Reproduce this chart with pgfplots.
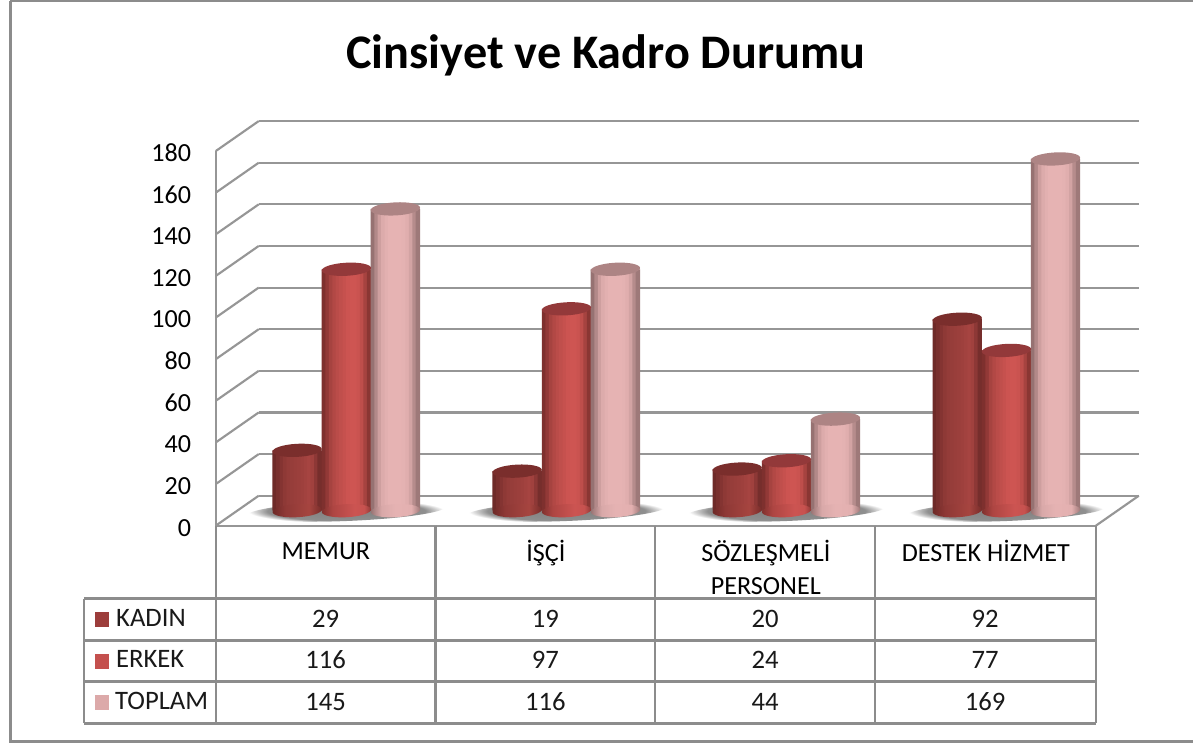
\documentclass[border=0pt]{standalone}
\usepackage{pgfplots}
\pgfplotsset{compat=1.18}
\usepackage{fontspec}
\setmainfont{Carlito}
\definecolor{gridc}{HTML}{969696}
\definecolor{tabc}{HTML}{8C8C8C}
\definecolor{kadinc}{HTML}{9C3D3B}
\definecolor{erkekc}{HTML}{C4504E}
\definecolor{toplamc}{HTML}{DCA9A9}
\definecolor{ktop}{HTML}{7A2E2C}
\definecolor{etop}{HTML}{93393A}
\definecolor{ttop}{HTML}{AD8484}
\definecolor{kdark}{HTML}{6E2A28}
\definecolor{klight}{HTML}{A64441}
\definecolor{edark}{HTML}{7E302E}
\definecolor{elight}{HTML}{CE5552}
\definecolor{tdark}{HTML}{967272}
\definecolor{tlight}{HTML}{E6B3B3}
\pgfdeclarehorizontalshading{kadinsh}{100bp}{rgb(0bp)=(0.43,0.16,0.15);rgb(25bp)=(0.43,0.16,0.15);rgb(38bp)=(0.56,0.22,0.21);rgb(62bp)=(0.65,0.27,0.25);rgb(75bp)=(0.46,0.17,0.16);rgb(100bp)=(0.46,0.17,0.16)}
\pgfdeclarehorizontalshading{erkeksh}{100bp}{rgb(0bp)=(0.50,0.19,0.18);rgb(25bp)=(0.50,0.19,0.18);rgb(36bp)=(0.68,0.27,0.26);rgb(58bp)=(0.80,0.33,0.32);rgb(68bp)=(0.78,0.32,0.31);rgb(75bp)=(0.55,0.22,0.21);rgb(100bp)=(0.55,0.22,0.21)}
\pgfdeclarehorizontalshading{toplamsh}{100bp}{rgb(0bp)=(0.59,0.45,0.45);rgb(25bp)=(0.59,0.45,0.45);rgb(36bp)=(0.85,0.66,0.66);rgb(50bp)=(0.90,0.70,0.70);rgb(66bp)=(0.89,0.69,0.69);rgb(75bp)=(0.62,0.47,0.47);rgb(100bp)=(0.62,0.47,0.47)}
\pgfdeclareradialshading{shadowsh}{\pgfpoint{0bp}{0bp}}{rgb(0bp)=(0.5,0.5,0.5);rgb(20bp)=(0.56,0.56,0.56);rgb(25bp)=(1,1,1);rgb(50bp)=(1,1,1)}
\newcommand\ellpath{\pgfpathellipse{\pgfpointorigin}{\pgfqpoint{18.5pt}{1.0pt}}{\pgfqpoint{-.3pt}{4.9pt}}}
\pgfdeclareplotmark{baseK}{\ellpath\pgfshadepath{kadinsh}{0}\pgfusepath{discard}}
\pgfdeclareplotmark{baseE}{\ellpath\pgfshadepath{erkeksh}{0}\pgfusepath{discard}}
\pgfdeclareplotmark{baseT}{\ellpath\pgfshadepath{toplamsh}{0}\pgfusepath{discard}}
\pgfdeclareplotmark{topC}{\ellpath\pgfusepath{fill}}
\pgfdeclareplotmark{shad}{\pgfpathellipse{\pgfpointorigin}{\pgfqpoint{74pt}{3pt}}{\pgfqpoint{0pt}{7.5pt}}\pgfshadepath{shadowsh}{0}\pgfusepath{discard}}
\pgfplotstableread{
x kadin erkek toplam zero
0 29 116 145 0
1 19 97 116 0
2 20 24 44 0
3 92 77 169 0
}\datatable
% #1 column, #2 xshift (pt), #3 dark, #4 light, #5 list offset/mix
\newcommand\cylbody[5]{%
  \foreach \off/\mx in #5{%
    \edef\temp{\noexpand\addplot[ybar,bar shift=\off pt,bar width=3.3pt,draw=none,fill={#4!\mx!#3},xshift=#2pt,yshift=11.25pt,forget plot] table[x=x,y=#1]{\noexpand\datatable};}%
    \temp
  }%
}
\def\profK{-16.9/0,-14.2/20,-11.6/40,-9/58,-6.4/68,-3.8/72,-1.2/76,1.4/80,4/85,6.6/92,9.2/100,11.8/90,14.4/55,16.9/15}
\def\profE{-16.9/0,-14.2/25,-11.6/50,-9/65,-6.4/75,-3.8/83,-1.2/90,1.4/97,4/100,6.6/100,9.2/95,11.8/80,14.4/50,16.9/15}
\def\profT{-16.9/0,-14.2/35,-11.6/70,-9/88,-6.4/95,-3.8/100,-1.2/100,1.4/100,4/100,6.6/98,9.2/92,11.8/75,14.4/40,16.9/10}
\pgfplotsset{common/.style={
  scale only axis,width=660.75pt,height=281.25pt,
  at={(162pt,-394.5pt)},anchor=south west,
  xmin=-0.5,xmax=3.5,ymin=0,ymax=180,clip=false}}
\begin{document}
\begin{tikzpicture}[x=0.75pt,y=-0.75pt]
\path[fill=white] (0,0) rectangle (1194,744);
\draw[tabc,line width=1.8pt] (10.5,1) -- (1194,1);
\draw[tabc,line width=1.8pt] (10.5,1) -- (10.5,742) -- (1194,742);
\node[font=\bfseries\fontsize{36.2}{36}\selectfont,anchor=center] at (606.5,55) {Cinsiyet ve Kadro Durumu};
\begin{axis}[common,hide axis]
\addplot[only marks,mark=shad,forget plot,xshift=15.5pt,yshift=11pt] table[x=x,y=zero]{\datatable};
\end{axis}
\begin{axis}[common,
  axis x line*=bottom,axis y line*=left,
  axis line style={gridc,line width=1.7pt,-},
  xtick={0,1,2,3},
  xticklabels={\rule{0pt}{14pt}MEMUR,\rule{0pt}{14pt}İŞÇİ,{\rule{0pt}{14pt}SÖZLEŞMELİ\\PERSONEL},\rule{0pt}{14pt}DESTEK HİZMET},
  xticklabel style={align=center,anchor=north,yshift=-7.5pt,font=\fontsize{19.6}{24.75}\selectfont},
  xtick style={draw=none},
  ytick={0,20,...,180},
  ytick style={draw=none},
  yticklabel style={font=\fontsize{19.6}{22}\selectfont,xshift=-15pt,yshift=-1.5pt},
  /pgf/number format/assume math mode=true,
]
\pgfplotsinvokeforeach{0,20,...,180}{
  \addplot[sharp plot,no marks,gridc,line width=1.6pt,xshift=32.25pt,yshift=22.5pt,forget plot] coordinates {(-0.5,#1)(3.5,#1)};
  \draw[gridc,line width=1.6pt] (axis cs:-0.5,#1) -- ++(32.25pt,22.5pt);
}
\draw[gridc,line width=1.6pt] (axis cs:3.5,0) -- ++(32.25pt,22.5pt);
\addplot[only marks,mark=baseK,forget plot,xshift=-21.5pt,yshift=11.25pt] table[x=x,y=zero]{\datatable};
\addplot[only marks,mark=baseE,forget plot,xshift=15.5pt,yshift=11.25pt] table[x=x,y=zero]{\datatable};
\addplot[only marks,mark=baseT,forget plot,xshift=52.25pt,yshift=11.25pt] table[x=x,y=zero]{\datatable};
\cylbody{kadin}{-21.5}{kdark}{klight}{\profK}
\cylbody{erkek}{15.5}{edark}{elight}{\profE}
\cylbody{toplam}{52.25}{tdark}{tlight}{\profT}
\addplot[only marks,mark=topC,forget plot,xshift=-21.5pt,yshift=11.25pt,mark options={draw=none,fill=ktop}] table[x=x,y=kadin]{\datatable};
\addplot[only marks,mark=topC,forget plot,xshift=15.5pt,yshift=11.25pt,mark options={draw=none,fill=etop}] table[x=x,y=erkek]{\datatable};
\addplot[only marks,mark=topC,forget plot,xshift=52.25pt,yshift=11.25pt,mark options={draw=none,fill=ttop}] table[x=x,y=toplam]{\datatable};
\end{axis}
\begin{scope}[tabc,line width=1.7pt]
\foreach \xx in {216,436,656,876,1097} \draw (\xx,526) -- (\xx,599);
\foreach \xx in {84,216,436,656,876,1097} \draw (\xx,599) -- (\xx,724);
\foreach \yy in {599,641,682,724} \draw (84,\yy) -- (1097,\yy);
\end{scope}
\begin{scope}[font=\fontsize{20}{24}\selectfont,text=black!90]
\fill[kadinc] (95,612) rectangle (109,627);
\fill[erkekc] (95,654) rectangle (109,669);
\fill[toplamc] (95,695) rectangle (109,711);
\node[anchor=base west,inner sep=0pt] at (116,627) {KADIN};
\node[anchor=base west,inner sep=0pt] at (116,668) {ERKEK};
\node[anchor=base west,inner sep=0pt] at (115,710) {TOPLAM};
\foreach \cx/\a/\b/\c in {326/29/116/145,546/19/97/116,766/20/24/44,986/92/77/169}{
  \node[anchor=base,inner sep=0pt] at (\cx,628) {\a};
  \node[anchor=base,inner sep=0pt] at (\cx,669) {\b};
  \node[anchor=base,inner sep=0pt] at (\cx,711) {\c};
}
\end{scope}
\end{tikzpicture}
\end{document}
